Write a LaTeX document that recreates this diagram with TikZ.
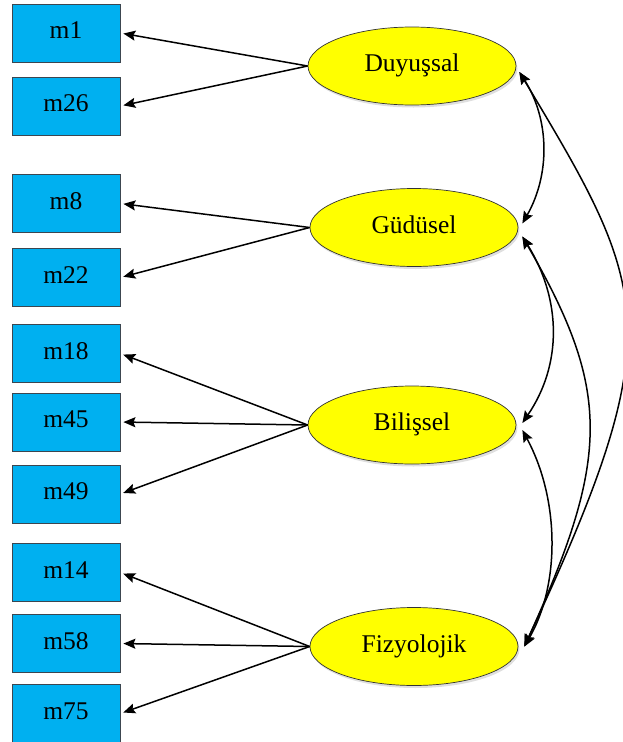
\documentclass[tikz,border=0pt]{standalone}
\usepackage{fontspec}
\setmainfont{Liberation Serif}
\usetikzlibrary{shapes.geometric,arrows.meta,shadows}

\definecolor{itembox}{RGB}{0,176,240}
\definecolor{itemedge}{RGB}{60,70,80}
\definecolor{factorfill}{RGB}{255,255,0}

\tikzset{
  item/.style={draw=itemedge, line width=0.8pt, fill=itembox, minimum width=108pt,
    minimum height=58pt, inner sep=0pt, text height=17pt, text depth=6pt,
    font=\fontsize{25.5}{30}\selectfont},
  factor/.style={ellipse, draw=black!80, line width=0.7pt, fill=factorfill,
    minimum width=208pt, minimum height=78pt, inner sep=0pt,
    text height=17pt, text depth=6pt,
    font=\fontsize{25.5}{30}\selectfont,
    drop shadow={opacity=0.25, shadow xshift=1.5pt, shadow yshift=-2.5pt}},
  load/.style={line width=1.5pt, -{Stealth[length=12pt,width=10pt,inset=2pt]}, shorten >=3pt},
  cov/.style={line width=1.5pt, {Stealth[length=12pt,width=10pt,inset=2pt]}-{Stealth[length=12pt,width=10pt,inset=2pt]}}
}

\begin{document}
\begin{tikzpicture}[x=1pt,y=1pt]
\useasboundingbox (0,0) rectangle (622,-742);

% observed items
\node[item] (m1)  at (66,-33)  {m1};
\node[item] (m26) at (66,-106) {m26};
\node[item] (m8)  at (66,-203.5) {m8};
\node[item] (m22) at (66,-277.5) {m22};
\node[item] (m18) at (66,-353.5) {m18};
\node[item] (m45) at (66,-422) {m45};
\node[item] (m49) at (66,-494) {m49};
\node[item] (m14) at (66,-572.5) {m14};
\node[item] (m58) at (66,-643.5) {m58};
\node[item] (m75) at (66,-713.5) {m75};

% latent factors
\node[factor] (D) at (412,-66)  {Duyuşsal};
\node[factor] (G) at (414,-227.5) {Güdüsel};
\node[factor] (B) at (412,-425) {Bilişsel};
\node[factor] (F) at (414,-646.5) {Fizyolojik};

% factor loadings
\draw[load] (D.west) -- (m1.east);
\draw[load] (D.west) -- (m26.east);
\draw[load] (G.west) -- (m8.east);
\draw[load] (G.west) -- (m22.east);
\draw[load] (B.west) -- (m18.east);
\draw[load] (B.west) -- (m45.east);
\draw[load] (B.west) -- (m49.east);
\draw[load] (F.west) -- (m14.east);
\draw[load] (F.west) -- (m58.east);
\draw[load] (F.west) -- (m75.east);

% factor covariances
\coordinate (Da) at ([shift={(3,-6)}]D.east);
\coordinate (Ga) at ([shift={(4,4)}]G.east);
\coordinate (Gb) at ([shift={(4,-9)}]G.east);
\coordinate (Ba) at ([shift={(6,2)}]B.east);
\coordinate (Bb) at ([shift={(6,-5)}]B.east);
\coordinate (Fa) at ([shift={(6,0)}]F.east);

\draw[cov] (Da) .. controls (550,-120) and (550,-175) .. (Ga);
\draw[cov] (Da) .. controls (650,-290) and (672,-330) .. (Fa);
\draw[cov] (Gb) .. controls (562,-300) and (562,-365) .. (Ba);
\draw[cov] (Gb) .. controls (611,-390) and (611,-456) .. (Fa);
\draw[cov] (Bb) .. controls (560,-500) and (560,-585) .. (Fa);
\end{tikzpicture}
\end{document}
